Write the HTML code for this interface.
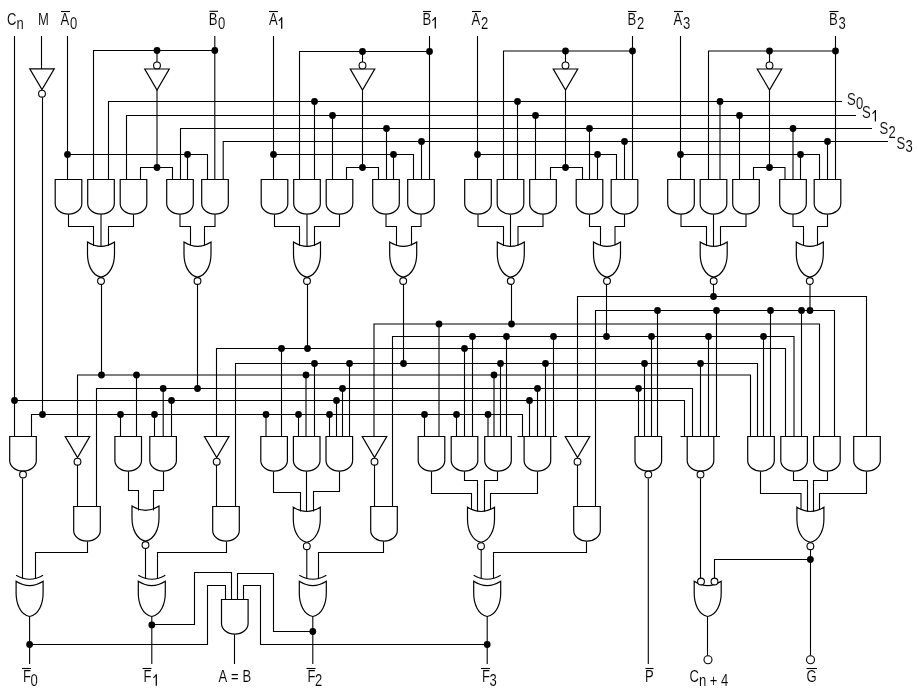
<!DOCTYPE html>
<html><head><meta charset="utf-8"><style>html,body{margin:0;padding:0;background:#fff;width:918px;height:694px;overflow:hidden}svg{display:block}</style></head>
<body><svg width="918" height="694" viewBox="0 0 918 694">
<style>
path{fill:none;stroke:#000;stroke-width:1.1;stroke-linejoin:miter;stroke-linecap:butt}
path.g{fill:none;stroke-width:1.2}
circle.d{fill:#000;stroke:none}
circle.b{fill:#fff;stroke:#000;stroke-width:1.1}
text{font-family:"Liberation Sans",sans-serif;fill:#000;stroke:#fff;stroke-width:0.1}
</style>
<rect width="918" height="694" fill="#fff"/>
<path d="M108.5 179.5 L108.5 101.5 L842 101.5"/>
<path d="M126.5 179.5 L126.5 115.5 L856 115.5"/>
<path d="M180.5 179.5 L180.5 128.5 L872 128.5"/>
<path d="M223.2 179.5 L223.2 141.5 L888 141.5"/>
<path d="M67.5 36 L67.5 179.5"/>
<circle class="d" cx="67.5" cy="154.5" r="3.4"/>
<path d="M67.5 154.5 L207.5 154.5 L207.5 179.5"/>
<circle class="d" cx="187.5" cy="154.5" r="3.4"/>
<path d="M187.5 154.5 L187.5 179.5"/>
<path d="M214.8 36 L214.8 179.5"/>
<circle class="d" cx="214.8" cy="50.5" r="3.4"/>
<path d="M214.8 50.5 L93.5 50.5 L93.5 179.5"/>
<circle class="d" cx="157" cy="50.5" r="3.4"/>
<path d="M157 50.5 L157 62"/>
<path class="g" d="M144.75 69 L169.25 69 L157 90 Z"/>
<circle class="b" cx="157" cy="65.4" r="3.4"/>
<path d="M157 90 L157 167.5"/>
<circle class="d" cx="157" cy="167.5" r="3.4"/>
<path d="M140.5 179.5 L140.5 167.5 L172.5 167.5 L172.5 179.5"/>
<path class="g" d="M55.2 179.5 L81.8 179.5 L81.8 203.5 A13.3 10.6 0 0 1 55.2 203.5 Z"/>
<path class="g" d="M87.7 179.5 L114.3 179.5 L114.3 203.5 A13.3 10.6 0 0 1 87.7 203.5 Z"/>
<path class="g" d="M120.2 179.5 L146.8 179.5 L146.8 203.5 A13.3 10.6 0 0 1 120.2 203.5 Z"/>
<path class="g" d="M166.7 179.5 L193.3 179.5 L193.3 203.5 A13.3 10.6 0 0 1 166.7 203.5 Z"/>
<path class="g" d="M201.7 179.5 L228.3 179.5 L228.3 203.5 A13.3 10.6 0 0 1 201.7 203.5 Z"/>
<path class="g" d="M87.5 242 Q101 250.6 114.5 242 L114.5 254 C114.5 264 110.45 275.3 101 277.2 C91.55 275.3 87.5 264 87.5 254 Z"/>
<circle class="b" cx="101" cy="281" r="3.4"/>
<path class="g" d="M184 242 Q197.5 250.6 211 242 L211 254 C211 264 206.95 275.3 197.5 277.2 C188.05 275.3 184 264 184 254 Z"/>
<circle class="b" cx="197.5" cy="281" r="3.4"/>
<path d="M68.5 214.5 L68.5 226.5 L93.5 226.5 L93.5 246"/>
<path d="M101 214.5 L101 246.5"/>
<path d="M133.5 214.5 L133.5 226.5 L108.5 226.5 L108.5 246"/>
<path d="M180 214.5 L180 226.5 L190.5 226.5 L190.5 245.5"/>
<path d="M215 214.5 L215 226.5 L204.5 226.5 L204.5 245.5"/>
<path d="M101.5 284.2 L101.5 375"/>
<circle class="d" cx="101.5" cy="375" r="3.4"/>
<path d="M197.5 284.2 L197.5 388.5"/>
<circle class="d" cx="197.5" cy="388.5" r="3.4"/>
<path d="M273.5 36 L273.5 179.5"/>
<circle class="d" cx="273.5" cy="154.5" r="3.4"/>
<path d="M273.5 154.5 L413.5 154.5 L413.5 179.5"/>
<circle class="d" cx="393.5" cy="154.5" r="3.4"/>
<path d="M393.5 154.5 L393.5 179.5"/>
<path d="M429.5 36 L429.5 179.5"/>
<circle class="d" cx="429.5" cy="51.5" r="3.4"/>
<path d="M429.5 51.5 L299.5 51.5 L299.5 179.5"/>
<circle class="d" cx="362.5" cy="51.5" r="3.4"/>
<path d="M362.5 51.5 L362.5 62"/>
<path class="g" d="M350.25 69 L374.75 69 L362.5 90 Z"/>
<circle class="b" cx="362.5" cy="65.4" r="3.4"/>
<path d="M362.5 90 L362.5 167.5"/>
<circle class="d" cx="362.5" cy="167.5" r="3.4"/>
<path d="M346.5 179.5 L346.5 167.5 L378.5 167.5 L378.5 179.5"/>
<circle class="d" cx="314.5" cy="101.5" r="3.4"/>
<path d="M314.5 101.5 L314.5 179.5"/>
<circle class="d" cx="332.5" cy="115.5" r="3.4"/>
<path d="M332.5 115.5 L332.5 179.5"/>
<circle class="d" cx="386.5" cy="128.5" r="3.4"/>
<path d="M386.5 128.5 L386.5 179.5"/>
<circle class="d" cx="421.5" cy="141.5" r="3.4"/>
<path d="M421.5 141.5 L421.5 179.5"/>
<path class="g" d="M261.2 179.5 L287.8 179.5 L287.8 203.5 A13.3 10.6 0 0 1 261.2 203.5 Z"/>
<path class="g" d="M293.7 179.5 L320.3 179.5 L320.3 203.5 A13.3 10.6 0 0 1 293.7 203.5 Z"/>
<path class="g" d="M326.2 179.5 L352.8 179.5 L352.8 203.5 A13.3 10.6 0 0 1 326.2 203.5 Z"/>
<path class="g" d="M372.7 179.5 L399.3 179.5 L399.3 203.5 A13.3 10.6 0 0 1 372.7 203.5 Z"/>
<path class="g" d="M407.7 179.5 L434.3 179.5 L434.3 203.5 A13.3 10.6 0 0 1 407.7 203.5 Z"/>
<path class="g" d="M293.5 242 Q307 250.6 320.5 242 L320.5 254 C320.5 264 316.45 275.3 307 277.2 C297.55 275.3 293.5 264 293.5 254 Z"/>
<circle class="b" cx="307" cy="281" r="3.4"/>
<path class="g" d="M389.7 242 Q403.2 250.6 416.7 242 L416.7 254 C416.7 264 412.65 275.3 403.2 277.2 C393.75 275.3 389.7 264 389.7 254 Z"/>
<circle class="b" cx="403.2" cy="281" r="3.4"/>
<path d="M274.5 214.5 L274.5 226.5 L299.5 226.5 L299.5 246"/>
<path d="M307 214.5 L307 246.5"/>
<path d="M339.5 214.5 L339.5 226.5 L314.5 226.5 L314.5 246"/>
<path d="M386 214.5 L386 226.5 L396.5 226.5 L396.5 245.5"/>
<path d="M421 214.5 L421 226.5 L411.5 226.5 L411.5 245.5"/>
<path d="M307.5 284.2 L307.5 348.5"/>
<circle class="d" cx="307.5" cy="348.5" r="3.4"/>
<path d="M403.5 284.2 L403.5 363.5"/>
<circle class="d" cx="403.5" cy="363.5" r="3.4"/>
<path d="M477.5 36 L477.5 179.5"/>
<circle class="d" cx="477.5" cy="154.5" r="3.4"/>
<path d="M477.5 154.5 L616.5 154.5 L616.5 179.5"/>
<circle class="d" cx="597.5" cy="154.5" r="3.4"/>
<path d="M597.5 154.5 L597.5 179.5"/>
<path d="M632.5 36 L632.5 179.5"/>
<circle class="d" cx="632.5" cy="51" r="3.4"/>
<path d="M632.5 51 L503.5 51 L503.5 179.5"/>
<circle class="d" cx="565.5" cy="51" r="3.4"/>
<path d="M565.5 51 L565.5 62"/>
<path class="g" d="M553.25 69 L577.75 69 L565.5 90 Z"/>
<circle class="b" cx="565.5" cy="65.4" r="3.4"/>
<path d="M565.5 90 L565.5 167.5"/>
<circle class="d" cx="565.5" cy="167.5" r="3.4"/>
<path d="M550.5 179.5 L550.5 167.5 L582.5 167.5 L582.5 179.5"/>
<circle class="d" cx="517.5" cy="101.5" r="3.4"/>
<path d="M517.5 101.5 L517.5 179.5"/>
<circle class="d" cx="535.5" cy="115.5" r="3.4"/>
<path d="M535.5 115.5 L535.5 179.5"/>
<circle class="d" cx="589.5" cy="128.5" r="3.4"/>
<path d="M589.5 128.5 L589.5 179.5"/>
<circle class="d" cx="624.5" cy="141.5" r="3.4"/>
<path d="M624.5 141.5 L624.5 179.5"/>
<path class="g" d="M464.7 179.5 L491.3 179.5 L491.3 203.5 A13.3 10.6 0 0 1 464.7 203.5 Z"/>
<path class="g" d="M497.2 179.5 L523.8 179.5 L523.8 203.5 A13.3 10.6 0 0 1 497.2 203.5 Z"/>
<path class="g" d="M529.7 179.5 L556.3 179.5 L556.3 203.5 A13.3 10.6 0 0 1 529.7 203.5 Z"/>
<path class="g" d="M576.2 179.5 L602.8 179.5 L602.8 203.5 A13.3 10.6 0 0 1 576.2 203.5 Z"/>
<path class="g" d="M611.2 179.5 L637.8 179.5 L637.8 203.5 A13.3 10.6 0 0 1 611.2 203.5 Z"/>
<path class="g" d="M497.3 242 Q510.8 250.6 524.3 242 L524.3 254 C524.3 264 520.25 275.3 510.8 277.2 C501.35 275.3 497.3 264 497.3 254 Z"/>
<circle class="b" cx="510.8" cy="281" r="3.4"/>
<path class="g" d="M593.5 242 Q607 250.6 620.5 242 L620.5 254 C620.5 264 616.45 275.3 607 277.2 C597.55 275.3 593.5 264 593.5 254 Z"/>
<circle class="b" cx="607" cy="281" r="3.4"/>
<path d="M478 214.5 L478 226.5 L503.5 226.5 L503.5 246"/>
<path d="M510.5 214.5 L510.5 246.5"/>
<path d="M543 214.5 L543 226.5 L518 226.5 L518 246"/>
<path d="M589.5 214.5 L589.5 226.5 L600.5 226.5 L600.5 245.5"/>
<path d="M624.5 214.5 L624.5 226.5 L615 226.5 L615 245.5"/>
<path d="M511.5 284.2 L511.5 324"/>
<circle class="d" cx="511.5" cy="324" r="3.4"/>
<path d="M606.5 284.2 L606.5 336.5"/>
<circle class="d" cx="606.5" cy="336.5" r="3.4"/>
<path d="M680.5 36 L680.5 179.5"/>
<circle class="d" cx="680.5" cy="154.5" r="3.4"/>
<path d="M680.5 154.5 L819.5 154.5 L819.5 179.5"/>
<circle class="d" cx="800.5" cy="154.5" r="3.4"/>
<path d="M800.5 154.5 L800.5 179.5"/>
<path d="M835.5 36 L835.5 179.5"/>
<circle class="d" cx="835.5" cy="51" r="3.4"/>
<path d="M835.5 51 L708.5 51 L708.5 179.5"/>
<circle class="d" cx="769.5" cy="51" r="3.4"/>
<path d="M769.5 51 L769.5 62"/>
<path class="g" d="M757.25 69 L781.75 69 L769.5 90 Z"/>
<circle class="b" cx="769.5" cy="65.4" r="3.4"/>
<path d="M769.5 90 L769.5 167.5"/>
<circle class="d" cx="769.5" cy="167.5" r="3.4"/>
<path d="M753.5 179.5 L753.5 167.5 L785 167.5 L785 179.5"/>
<circle class="d" cx="720" cy="101.5" r="3.4"/>
<path d="M720 101.5 L720 179.5"/>
<circle class="d" cx="739.5" cy="115.5" r="3.4"/>
<path d="M739.5 115.5 L739.5 179.5"/>
<circle class="d" cx="793" cy="128.5" r="3.4"/>
<path d="M793 128.5 L793 179.5"/>
<circle class="d" cx="827.5" cy="141.5" r="3.4"/>
<path d="M827.5 141.5 L827.5 179.5"/>
<path class="g" d="M667.7 179.5 L694.3 179.5 L694.3 203.5 A13.3 10.6 0 0 1 667.7 203.5 Z"/>
<path class="g" d="M700.2 179.5 L726.8 179.5 L726.8 203.5 A13.3 10.6 0 0 1 700.2 203.5 Z"/>
<path class="g" d="M732.7 179.5 L759.3 179.5 L759.3 203.5 A13.3 10.6 0 0 1 732.7 203.5 Z"/>
<path class="g" d="M779.7 179.5 L806.3 179.5 L806.3 203.5 A13.3 10.6 0 0 1 779.7 203.5 Z"/>
<path class="g" d="M814.2 179.5 L840.8 179.5 L840.8 203.5 A13.3 10.6 0 0 1 814.2 203.5 Z"/>
<path class="g" d="M700.2 242 Q713.7 250.6 727.2 242 L727.2 254 C727.2 264 723.15 275.3 713.7 277.2 C704.25 275.3 700.2 264 700.2 254 Z"/>
<circle class="b" cx="713.7" cy="281" r="3.4"/>
<path class="g" d="M796.3 242 Q809.8 250.6 823.3 242 L823.3 254 C823.3 264 819.25 275.3 809.8 277.2 C800.35 275.3 796.3 264 796.3 254 Z"/>
<circle class="b" cx="809.8" cy="281" r="3.4"/>
<path d="M681 214.5 L681 226.5 L706.5 226.5 L706.5 246"/>
<path d="M713.5 214.5 L713.5 246.5"/>
<path d="M746 214.5 L746 226.5 L720.5 226.5 L720.5 246"/>
<path d="M793 214.5 L793 226.5 L803.5 226.5 L803.5 245.5"/>
<path d="M827.5 214.5 L827.5 226.5 L817.5 226.5 L817.5 245.5"/>
<path d="M713.5 284.2 L713.5 296.5"/>
<circle class="d" cx="713.5" cy="296.5" r="3.4"/>
<path d="M810 284.2 L810 310.5"/>
<circle class="d" cx="810" cy="310.5" r="3.4"/>
<path d="M14.5 36 L14.5 436.5"/>
<circle class="d" cx="14.5" cy="400.5" r="3.4"/>
<path d="M41.5 36 L41.5 69"/>
<path class="g" d="M29.75 68.8 L54.25 68.8 L42 89.5 Z"/>
<circle class="b" cx="42" cy="93.7" r="3.4"/>
<path d="M42.5 97.5 L42.5 414.5"/>
<circle class="d" cx="42.5" cy="414.5" r="3.4"/>
<path d="M577.5 436.5 L577.5 296.5 L866.5 296.5 L866.5 436.5"/>
<path d="M595.5 506.5 L595.5 310.5 L834.5 310.5 L834.5 436.5"/>
<path d="M374 436.5 L374 324 L819.5 324 L819.5 436.5"/>
<path d="M392.5 506.5 L392.5 336.5 L794 336.5 L794 436.5"/>
<path d="M216.5 436.5 L216.5 348.5 L785.5 348.5 L785.5 436.5"/>
<path d="M235.5 506.5 L235.5 363.5 L757.5 363.5 L757.5 436.5"/>
<path d="M77.5 436.5 L77.5 375 L750.5 375 L750.5 436.5"/>
<path d="M96.5 506.5 L96.5 388.5 L692.5 388.5 L692.5 436.5"/>
<path d="M14.5 400.5 L684.5 400.5 L684.5 436.5"/>
<path d="M31.5 436.5 L31.5 414.5 L522.5 414.5 L522.5 436.5"/>
<circle class="d" cx="657.5" cy="310.5" r="3.4"/>
<path d="M657.5 310.5 L657.5 436.5"/>
<circle class="d" cx="716.5" cy="310.5" r="3.4"/>
<path d="M716.5 310.5 L716.5 436.5"/>
<circle class="d" cx="770.5" cy="310.5" r="3.4"/>
<path d="M770.5 310.5 L770.5 436.5"/>
<circle class="d" cx="801.5" cy="310.5" r="3.4"/>
<path d="M801.5 310.5 L801.5 436.5"/>
<circle class="d" cx="439" cy="324" r="3.4"/>
<path d="M439 324 L439 436.5"/>
<circle class="d" cx="472.5" cy="336.5" r="3.4"/>
<path d="M472.5 336.5 L472.5 436.5"/>
<circle class="d" cx="506.5" cy="336.5" r="3.4"/>
<path d="M506.5 336.5 L506.5 436.5"/>
<circle class="d" cx="553.5" cy="336.5" r="3.4"/>
<path d="M553.5 336.5 L553.5 436.5"/>
<circle class="d" cx="651.5" cy="336.5" r="3.4"/>
<path d="M651.5 336.5 L651.5 436.5"/>
<circle class="d" cx="708.5" cy="336.5" r="3.4"/>
<path d="M708.5 336.5 L708.5 436.5"/>
<circle class="d" cx="763.5" cy="336.5" r="3.4"/>
<path d="M763.5 336.5 L763.5 436.5"/>
<circle class="d" cx="281.5" cy="348.5" r="3.4"/>
<path d="M281.5 348.5 L281.5 436.5"/>
<circle class="d" cx="464.5" cy="348.5" r="3.4"/>
<path d="M464.5 348.5 L464.5 436.5"/>
<circle class="d" cx="314.5" cy="363.5" r="3.4"/>
<path d="M314.5 363.5 L314.5 436.5"/>
<circle class="d" cx="349.5" cy="363.5" r="3.4"/>
<path d="M349.5 363.5 L349.5 436.5"/>
<circle class="d" cx="500.5" cy="363.5" r="3.4"/>
<path d="M500.5 363.5 L500.5 436.5"/>
<circle class="d" cx="545.5" cy="363.5" r="3.4"/>
<path d="M545.5 363.5 L545.5 436.5"/>
<circle class="d" cx="644.5" cy="363.5" r="3.4"/>
<path d="M644.5 363.5 L644.5 436.5"/>
<circle class="d" cx="700.5" cy="363.5" r="3.4"/>
<path d="M700.5 363.5 L700.5 436.5"/>
<circle class="d" cx="136.5" cy="375" r="3.4"/>
<path d="M136.5 375 L136.5 436.5"/>
<circle class="d" cx="306" cy="375" r="3.4"/>
<path d="M306 375 L306 436.5"/>
<circle class="d" cx="494" cy="375" r="3.4"/>
<path d="M494 375 L494 436.5"/>
<circle class="d" cx="163.2" cy="388.5" r="3.4"/>
<path d="M163.2 388.5 L163.2 436.5"/>
<circle class="d" cx="342.5" cy="388.5" r="3.4"/>
<path d="M342.5 388.5 L342.5 436.5"/>
<circle class="d" cx="537.5" cy="388.5" r="3.4"/>
<path d="M537.5 388.5 L537.5 436.5"/>
<circle class="d" cx="638.5" cy="388.5" r="3.4"/>
<path d="M638.5 388.5 L638.5 436.5"/>
<circle class="d" cx="171.5" cy="400.5" r="3.4"/>
<path d="M171.5 400.5 L171.5 436.5"/>
<circle class="d" cx="336.5" cy="400.5" r="3.4"/>
<path d="M336.5 400.5 L336.5 436.5"/>
<circle class="d" cx="529.5" cy="400.5" r="3.4"/>
<path d="M529.5 400.5 L529.5 436.5"/>
<circle class="d" cx="120.5" cy="414.5" r="3.4"/>
<path d="M120.5 414.5 L120.5 436.5"/>
<circle class="d" cx="154.5" cy="414.5" r="3.4"/>
<path d="M154.5 414.5 L154.5 436.5"/>
<circle class="d" cx="266" cy="414.5" r="3.4"/>
<path d="M266 414.5 L266 436.5"/>
<circle class="d" cx="298.5" cy="414.5" r="3.4"/>
<path d="M298.5 414.5 L298.5 436.5"/>
<circle class="d" cx="329.5" cy="414.5" r="3.4"/>
<path d="M329.5 414.5 L329.5 436.5"/>
<circle class="d" cx="424.5" cy="414.5" r="3.4"/>
<path d="M424.5 414.5 L424.5 436.5"/>
<circle class="d" cx="456.5" cy="414.5" r="3.4"/>
<path d="M456.5 414.5 L456.5 436.5"/>
<circle class="d" cx="488" cy="414.5" r="3.4"/>
<path d="M488 414.5 L488 436.5"/>
<path class="g" d="M9.7 436.5 L36.3 436.5 L36.3 460.5 A13.3 10.6 0 0 1 9.7 460.5 Z"/>
<circle class="b" cx="23" cy="474.5" r="3.4"/>
<path class="g" d="M65.25 436.5 L89.75 436.5 L77.5 457.5 Z"/>
<circle class="b" cx="77.5" cy="461.7" r="3.4"/>
<path class="g" d="M114.9 436.5 L141.5 436.5 L141.5 460.5 A13.3 10.6 0 0 1 114.9 460.5 Z"/>
<path class="g" d="M149.8 436.5 L176.4 436.5 L176.4 460.5 A13.3 10.6 0 0 1 149.8 460.5 Z"/>
<path class="g" d="M204.45 436.5 L228.95 436.5 L216.7 457.5 Z"/>
<circle class="b" cx="216.7" cy="461.7" r="3.4"/>
<path class="g" d="M260.8 436.5 L287.4 436.5 L287.4 460.5 A13.3 10.6 0 0 1 260.8 460.5 Z"/>
<path class="g" d="M293.4 436.5 L320 436.5 L320 460.5 A13.3 10.6 0 0 1 293.4 460.5 Z"/>
<path class="g" d="M326 436.5 L352.6 436.5 L352.6 460.5 A13.3 10.6 0 0 1 326 460.5 Z"/>
<path class="g" d="M362.25 436.5 L386.75 436.5 L374.5 457.5 Z"/>
<circle class="b" cx="374.5" cy="461.7" r="3.4"/>
<path class="g" d="M418.2 436.5 L444.8 436.5 L444.8 460.5 A13.3 10.6 0 0 1 418.2 460.5 Z"/>
<path class="g" d="M451.2 436.5 L477.8 436.5 L477.8 460.5 A13.3 10.6 0 0 1 451.2 460.5 Z"/>
<path class="g" d="M484.7 436.5 L511.3 436.5 L511.3 460.5 A13.3 10.6 0 0 1 484.7 460.5 Z"/>
<path class="g" d="M524.1 436.5 L550.7 436.5 L550.7 460.5 A13.3 10.6 0 0 1 524.1 460.5 Z"/>
<path d="M517.5 436.5 L557 436.5"/>
<path class="g" d="M565.25 436.5 L589.75 436.5 L577.5 457.5 Z"/>
<circle class="b" cx="577.5" cy="461.7" r="3.4"/>
<path class="g" d="M635 436.5 L661.6 436.5 L661.6 460.5 A13.3 10.6 0 0 1 635 460.5 Z"/>
<circle class="b" cx="648.3" cy="474.5" r="3.4"/>
<path class="g" d="M687.2 436.5 L713.8 436.5 L713.8 460.5 A13.3 10.6 0 0 1 687.2 460.5 Z"/>
<path d="M680.5 436.5 L720 436.5"/>
<circle class="b" cx="700.5" cy="474.5" r="3.4"/>
<path class="g" d="M747.7 436.5 L774.3 436.5 L774.3 460.5 A13.3 10.6 0 0 1 747.7 460.5 Z"/>
<path class="g" d="M780.8 436.5 L807.4 436.5 L807.4 460.5 A13.3 10.6 0 0 1 780.8 460.5 Z"/>
<path class="g" d="M813.6 436.5 L840.2 436.5 L840.2 460.5 A13.3 10.6 0 0 1 813.6 460.5 Z"/>
<path class="g" d="M853.7 436.5 L880.3 436.5 L880.3 460.5 A13.3 10.6 0 0 1 853.7 460.5 Z"/>
<path d="M77.5 465 L77.5 506.5"/>
<path d="M216.5 465 L216.5 506.5"/>
<path d="M374.5 465 L374.5 506.5"/>
<path d="M577.5 465 L577.5 506.5"/>
<path class="g" d="M73.7 506.5 L100.3 506.5 L100.3 530.5 A13.3 10.6 0 0 1 73.7 530.5 Z"/>
<path class="g" d="M212.7 506.5 L239.3 506.5 L239.3 530.5 A13.3 10.6 0 0 1 212.7 530.5 Z"/>
<path class="g" d="M370.7 506.5 L397.3 506.5 L397.3 530.5 A13.3 10.6 0 0 1 370.7 530.5 Z"/>
<path class="g" d="M573.7 506.5 L600.3 506.5 L600.3 530.5 A13.3 10.6 0 0 1 573.7 530.5 Z"/>
<path d="M128.5 471.5 L128.5 490.5 L138.5 490.5 L138.5 510.5"/>
<path d="M163.5 471.5 L163.5 490.5 L153.5 490.5 L153.5 510.5"/>
<path class="g" d="M132 506 Q145.5 514.6 159 506 L159 518 C159 528 154.95 539.3 145.5 541.2 C136.05 539.3 132 528 132 518 Z"/>
<circle class="b" cx="145.5" cy="545" r="3.4"/>
<path d="M273.5 471.5 L273.5 492.5 L300.5 492.5 L300.5 511.5"/>
<path d="M306.5 471.5 L306.5 512"/>
<path d="M339.5 471.5 L339.5 491.5 L313.5 491.5 L313.5 511.5"/>
<path class="g" d="M293.3 507.2 Q306.8 515.8 320.3 507.2 L320.3 519.2 C320.3 529.2 316.25 540.5 306.8 542.4 C297.35 540.5 293.3 529.2 293.3 519.2 Z"/>
<circle class="b" cx="306.8" cy="546.2" r="3.4"/>
<path d="M431.5 471.5 L431.5 493.5 L471.5 493.5 L471.5 510"/>
<path d="M464.5 471.5 L464.5 480.5 L477.5 480.5 L477.5 511.5"/>
<path d="M497.5 471.5 L497.5 480.5 L484.5 480.5 L484.5 511.5"/>
<path d="M537.5 471.5 L537.5 493.5 L490.5 493.5 L490.5 510"/>
<path class="g" d="M467.5 507.2 Q481 515.8 494.5 507.2 L494.5 519.2 C494.5 529.2 490.45 540.5 481 542.4 C471.55 540.5 467.5 529.2 467.5 519.2 Z"/>
<circle class="b" cx="481" cy="546.2" r="3.4"/>
<path d="M760.5 471.5 L760.5 493.5 L801 493.5 L801 510"/>
<path d="M793.5 471.5 L793.5 480.5 L807.5 480.5 L807.5 511.5"/>
<path d="M827.5 471.5 L827.5 480.5 L813.5 480.5 L813.5 511.5"/>
<path d="M866.5 471.5 L866.5 493.5 L819.5 493.5 L819.5 510"/>
<path class="g" d="M796.9 507.2 Q810.4 515.8 823.9 507.2 L823.9 519.2 C823.9 529.2 819.85 540.5 810.4 542.4 C800.95 540.5 796.9 529.2 796.9 519.2 Z"/>
<circle class="b" cx="810.4" cy="546.2" r="3.4"/>
<path class="g" d="M16.1 581.3 Q29.6 589.9 43.1 581.3 L43.1 593.3 C43.1 603.3 39.05 614.6 29.6 616.5 C20.15 614.6 16.1 603.3 16.1 593.3 Z"/>
<path d="M16.1 575.3 Q29.6 583.3 43.1 575.3"/>
<path class="g" d="M138.3 581.3 Q151.8 589.9 165.3 581.3 L165.3 593.3 C165.3 603.3 161.25 614.6 151.8 616.5 C142.35 614.6 138.3 603.3 138.3 593.3 Z"/>
<path d="M138.3 575.3 Q151.8 583.3 165.3 575.3"/>
<path class="g" d="M299.3 581.3 Q312.8 589.9 326.3 581.3 L326.3 593.3 C326.3 603.3 322.25 614.6 312.8 616.5 C303.35 614.6 299.3 603.3 299.3 593.3 Z"/>
<path d="M299.3 575.3 Q312.8 583.3 326.3 575.3"/>
<path class="g" d="M473.7 581.3 Q487.2 589.9 500.7 581.3 L500.7 593.3 C500.7 603.3 496.65 614.6 487.2 616.5 C477.75 614.6 473.7 603.3 473.7 593.3 Z"/>
<path d="M473.7 575.3 Q487.2 583.3 500.7 575.3"/>
<path d="M22.5 478.5 L22.5 578.5"/>
<path d="M87.5 541.5 L87.5 552.5 L35.5 552.5 L35.5 578.5"/>
<path d="M145.5 548.5 L145.5 578.5"/>
<path d="M226.5 541.5 L226.5 552.5 L157.5 552.5 L157.5 578.5"/>
<path d="M306.8 549.7 L306.8 578.5"/>
<path d="M383.5 541.5 L383.5 552.5 L318.5 552.5 L318.5 578.5"/>
<path d="M481.2 549.7 L481.2 578.5"/>
<path d="M586.5 541.5 L586.5 552.5 L493.5 552.5 L493.5 578.5"/>
<path d="M29.6 616.5 L29.6 664"/>
<circle class="d" cx="29.6" cy="644.5" r="3.4"/>
<path d="M29.6 644.5 L207.5 644.5 L207.5 585.5 L225.5 585.5 L225.5 599.5"/>
<path d="M151.8 616.5 L151.8 664"/>
<circle class="d" cx="151.8" cy="625" r="3.4"/>
<path d="M151.8 624.5 L194.5 624.5 L194.5 572.5 L231.5 572.5 L231.5 599.5"/>
<path d="M312.8 616.5 L312.8 664"/>
<circle class="d" cx="312.8" cy="631.5" r="3.4"/>
<path d="M312.8 631.5 L273.5 631.5 L273.5 573.5 L237.5 573.5 L237.5 599.5"/>
<path d="M487.2 616.5 L487.2 664"/>
<circle class="d" cx="487.2" cy="644.5" r="3.4"/>
<path d="M487.2 644.5 L260.5 644.5 L260.5 585.5 L243.5 585.5 L243.5 599.5"/>
<path class="g" d="M221.5 599.5 L248.1 599.5 L248.1 623.5 A13.3 10.6 0 0 1 221.5 623.5 Z"/>
<path d="M234.5 634.5 L234.5 664"/>
<path d="M648.3 478.5 L648.3 664"/>
<path d="M700.5 478.5 L700.5 578"/>
<path class="g" d="M694.2 581.3 Q707.7 589.9 721.2 581.3 L721.2 593.3 C721.2 603.3 717.15 614.6 707.7 616.5 C698.25 614.6 694.2 603.3 694.2 593.3 Z"/>
<circle class="b" cx="701" cy="581.5" r="3.4"/>
<circle class="b" cx="714.5" cy="581.5" r="3.4"/>
<path d="M714.5 578 L714.5 559.5 L810.4 559.5"/>
<circle class="d" cx="810.4" cy="559.5" r="3.4"/>
<path d="M810.5 549.7 L810.5 655.8"/>
<circle class="b" cx="810.5" cy="659.8" r="4"/>
<path d="M707.5 616.7 L707.5 655.8"/>
<circle class="b" cx="708" cy="659.8" r="4"/>
<path d="M61 11.5 L70 11.5"/>
<path d="M209.5 11.3 L218 11.3"/>
<path style="stroke-width:1.25" d="M281.7 17.4 L281.7 28.7"/>
<path style="stroke-width:1.1" d="M278.8 20.8 L282 17.6"/>
<path d="M269 11.5 L278 11.5"/>
<path style="stroke-width:1.25" d="M435.3 17.3 L435.3 28.6"/>
<path style="stroke-width:1.1" d="M432.4 20.7 L435.6 17.5"/>
<path d="M423 11.5 L431 11.5"/>
<path d="M472 11.5 L481 11.5"/>
<path d="M628 11.5 L636.5 11.5"/>
<path d="M674 11.5 L683 11.5"/>
<path d="M829.5 11.5 L838.5 11.5"/>
<path style="stroke-width:1.25" d="M875.4 110.2 L875.4 121.5"/>
<path style="stroke-width:1.1" d="M872.5 113.6 L875.7 110.4"/>
<path d="M22 668.5 L31 668.5"/>
<path style="stroke-width:1.25" d="M156.3 674.4 L156.3 685.7"/>
<path style="stroke-width:1.1" d="M153.4 677.8 L156.6 674.6"/>
<path d="M142.5 668.5 L151.5 668.5"/>
<path d="M306.5 668.5 L315.5 668.5"/>
<path d="M481 668.5 L490 668.5"/>
<path d="M645.5 668.5 L653.5 668.5"/>
<path d="M806.5 668.5 L817 668.5"/>
<g style="will-change:transform">
<text transform="translate(7 25) scale(0.75 1)" font-size="17.4">C</text>
<text transform="translate(16.5 28.6) scale(0.75 1)" font-size="17.4">n</text>
<text transform="translate(38 25) scale(0.75 1)" font-size="17.4">M</text>
<text transform="translate(60.5 25) scale(0.75 1)" font-size="17.4">A</text>
<text transform="translate(70 28.8) scale(0.75 1)" font-size="17.4">0</text>
<text transform="translate(208.8 25) scale(0.75 1)" font-size="17.4">B</text>
<text transform="translate(218 28.6) scale(0.75 1)" font-size="17.4">0</text>
<text transform="translate(269 25) scale(0.75 1)" font-size="17.4">A</text>
<text transform="translate(422.5 25) scale(0.75 1)" font-size="17.4">B</text>
<text transform="translate(471.5 25) scale(0.75 1)" font-size="17.4">A</text>
<text transform="translate(481 28.6) scale(0.75 1)" font-size="17.4">2</text>
<text transform="translate(627.5 25) scale(0.75 1)" font-size="17.4">B</text>
<text transform="translate(637 28.6) scale(0.75 1)" font-size="17.4">2</text>
<text transform="translate(673.5 25) scale(0.75 1)" font-size="17.4">A</text>
<text transform="translate(683 28.6) scale(0.75 1)" font-size="17.4">3</text>
<text transform="translate(829 25) scale(0.75 1)" font-size="17.4">B</text>
<text transform="translate(838.5 28.6) scale(0.75 1)" font-size="17.4">3</text>
<text transform="translate(847 105) scale(0.75 1)" font-size="17.4">S</text>
<text transform="translate(856 108.5) scale(0.75 1)" font-size="17.4">0</text>
<text transform="translate(862 118) scale(0.75 1)" font-size="17.4">S</text>
<text transform="translate(879.5 134) scale(0.75 1)" font-size="17.4">S</text>
<text transform="translate(888.5 137.5) scale(0.75 1)" font-size="17.4">2</text>
<text transform="translate(896.5 148.8) scale(0.75 1)" font-size="17.4">S</text>
<text transform="translate(905.5 152.3) scale(0.75 1)" font-size="17.4">3</text>
<text transform="translate(23 682) scale(0.75 1)" font-size="17.4">F</text>
<text transform="translate(30.5 685.8) scale(0.75 1)" font-size="17.4">0</text>
<text transform="translate(143.5 682) scale(0.75 1)" font-size="17.4">F</text>
<text transform="translate(218.5 682) scale(0.75 1)" font-size="17.4">A</text>
<text transform="translate(231 682) scale(0.75 1)" font-size="17.4">=</text>
<text transform="translate(242.5 682) scale(0.75 1)" font-size="17.4">B</text>
<text transform="translate(307.5 682) scale(0.75 1)" font-size="17.4">F</text>
<text transform="translate(315 685.8) scale(0.75 1)" font-size="17.4">2</text>
<text transform="translate(482 682) scale(0.75 1)" font-size="17.4">F</text>
<text transform="translate(489.5 685.8) scale(0.75 1)" font-size="17.4">3</text>
<text transform="translate(645 682) scale(0.75 1)" font-size="17.4">P</text>
<text transform="translate(689.5 682) scale(0.75 1)" font-size="17.4">C</text>
<text transform="translate(699 685.8) scale(0.75 1)" font-size="17.4">n + 4</text>
<text transform="translate(806.6 682) scale(0.75 1)" font-size="17.4">G</text>
</g>
</svg></body></html>
